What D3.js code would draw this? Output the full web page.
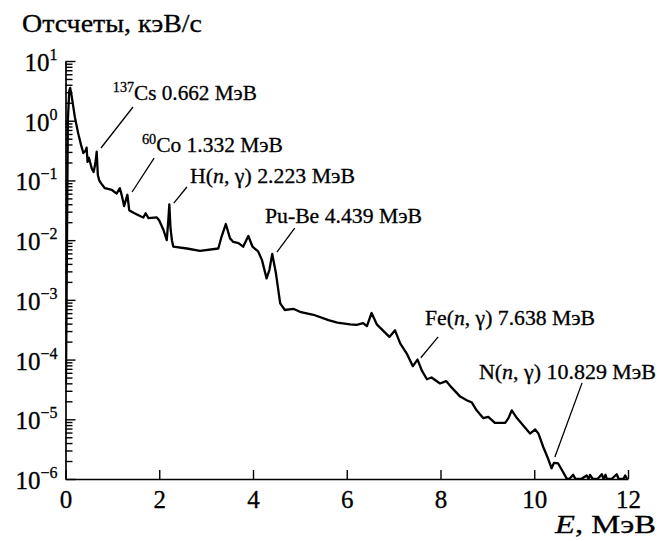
<!DOCTYPE html>
<html>
<head>
<meta charset="utf-8">
<script src="https://cdnjs.cloudflare.com/ajax/libs/d3/7.8.5/d3.min.js"></script>
<style>
  body { margin: 0; background: #fff; }
  svg text { font-family: "Liberation Serif", "Times New Roman", serif; fill: #000; stroke: #000; stroke-width: 0.3px; }
</style>
</head>
<body>
<div id="chart"></div>
<script>
var width = 659;
var height = 541;
var margin = {left: 65.5, top: 61, right: 31, bottom: 62};
var plotW = width - margin.left - margin.right;
var plotH = height - margin.top - margin.bottom;

// spectrum: energy (MeV) and log10 of counts (keV/s)
var energy = [0.01, 0.03, 0.05, 0.08, 0.1, 0.13, 0.2, 0.27, 0.33, 0.38, 0.43, 0.45, 0.47, 0.5, 0.56, 0.6, 0.64, 0.665, 0.69, 0.72, 0.76,
  0.84, 0.99, 1.09, 1.16, 1.2, 1.25, 1.32, 1.36, 1.45, 1.6, 1.66, 1.71, 1.77, 1.95, 2.0, 2.09, 2.16, 2.19, 2.215, 2.24, 2.27, 2.3,
  2.59, 2.87, 3.26, 3.33, 3.42, 3.51, 3.58, 3.69, 3.79, 3.9, 3.99, 4.11, 4.19, 4.29, 4.35, 4.41, 4.49, 4.58, 4.68, 4.86, 5.0, 5.29,
  5.61, 5.8, 6.07, 6.21, 6.35, 6.43, 6.53, 6.64, 6.78, 6.91, 7.03, 7.14, 7.28, 7.41, 7.51, 7.6, 7.71, 7.81, 7.99, 8.12, 8.24, 8.42,
  8.56, 8.67, 8.77, 8.91, 9.02, 9.16, 9.38, 9.45, 9.52, 9.63, 9.77, 9.91, 10.02, 10.09, 10.19, 10.3, 10.37, 10.42, 10.51, 10.59,
  10.69, 10.75, 10.83, 10.88, 11.0, 11.12, 11.16, 11.19, 11.25, 11.35, 11.44, 11.48, 11.52, 11.55, 11.65, 11.76, 11.8, 11.9, 11.94, 11.98];
var countsLog10 = [-4.4, -2.2, 0.0, 0.5, 0.55, 0.42, 0.06, -0.21, -0.4, -0.54, -0.5, -0.45, -0.69, -0.62, -0.8, -0.86, -0.7, -0.52, -0.91, -1.0, -1.05,
  -1.13, -1.16, -1.22, -1.13, -1.25, -1.43, -1.24, -1.5, -1.54, -1.6, -1.62, -1.55, -1.63, -1.62, -1.67, -1.83, -2.0, -1.7, -1.4, -1.8, -2.0, -2.11,
  -2.14, -2.18, -2.14, -1.94, -1.73, -1.97, -2.03, -2.05, -2.11, -1.93, -2.11, -2.19, -2.33, -2.64, -2.5, -2.23, -2.56, -3.06, -3.17, -3.15, -3.2, -3.25,
  -3.34, -3.38, -3.41, -3.42, -3.39, -3.44, -3.22, -3.41, -3.52, -3.62, -3.51, -3.73, -3.9, -4.11, -4.0, -4.18, -4.33, -4.3, -4.4, -4.36, -4.47, -4.62,
  -4.68, -4.72, -4.85, -4.98, -4.96, -5.06, -5.06, -4.98, -4.85, -4.98, -5.11, -5.24, -5.17, -5.24, -5.46, -5.67, -5.82, -5.73, -5.74, -5.85,
  -5.99, -6.0, -5.93, -6.0, -6.0, -5.94, -6.0, -5.93, -6.0, -6.0, -5.92, -6.0, -5.93, -6.0, -6.0, -5.92, -6.0, -6.0, -5.94, -6.0];

var xTicks = [0, 2, 4, 6, 8, 10, 12];
var yExponents = [-6, -5, -4, -3, -2, -1, 0, 1];

// annotations: text position and leader line ends in data units (E, log10 counts)
var annText = [
  {sup: "137", main: "Cs 0.662 МэВ"},
  {sup: "60", main: "Co 1.332 МэВ"},
  {pre: "H(", it: "n", post: ", γ) 2.223 МэВ"},
  {main: "Pu-Be 4.439 МэВ"},
  {pre: "Fe(", it: "n", post: ", γ) 7.638 МэВ"},
  {pre: "N(", it: "n", post: ", γ) 10.829 МэВ"}
];
var annTextPos = [[1.01, 0.347], [1.63, -0.524], [2.656, -1.044], [4.256, -1.714], [7.67, -3.42], [8.82, -4.327]];
var annTextLen = [144, 141, 165, 157, 170, 177];
var annLineFrom = [[1.44, 0.23], [1.89, -0.625], [2.59, -1.11], [4.89, -1.80], [7.95, -3.62], [11.02, -4.39]];
var annLineTo = [[0.757, -0.457], [1.42, -1.194], [2.31, -1.38], [4.51, -2.20], [7.58, -3.97], [10.44, -5.63]];

var svg = d3.select("#chart").append("svg").attr("width", width).attr("height", height);
var g = svg.append("g").attr("transform", "translate(" + margin.left + "," + margin.top + ")");

var x = d3.scaleLinear().domain([0, 12]).range([0, plotW]);
var y = d3.scaleLog().domain([1e-6, 10]).range([plotH, 0]);

// minor log ticks
var minor = [];
yExponents.slice(0, -1).forEach(function(e) {
  for (var k = 2; k <= 9; k++) minor.push(k * Math.pow(10, e));
});
g.append("g").attr("class", "minor")
  .call(d3.axisLeft(y).tickValues(minor).tickSize(-7).tickSizeOuter(0).tickFormat(""))
  .call(function(s) { s.select(".domain").remove(); });

var yAxis = g.append("g")
  .call(d3.axisLeft(y).tickValues(yExponents.map(function(e) { return Math.pow(10, e); }))
    .tickSize(-10).tickSizeOuter(0).tickFormat(""));

var xAxis = g.append("g").attr("transform", "translate(0," + plotH + ")")
  .call(d3.axisBottom(x).tickValues(xTicks).tickSize(-9).tickSizeOuter(0).tickPadding(11).tickFormat(d3.format("d")));
xAxis.selectAll("text").attr("font-size", 25).attr("font-family", null);

g.selectAll(".domain").attr("stroke", "#000").attr("stroke-width", 1.7);
g.selectAll(".tick line").attr("stroke", "#000").attr("stroke-width", 1.4);

// y labels 10^n
var yl = g.append("g").selectAll("text").data(yExponents).enter().append("text")
  .attr("x", -8).attr("y", function(d) { return y(Math.pow(10, d)) + 10; })
  .attr("text-anchor", "end").attr("font-size", 25);
yl.append("tspan").text("10");
yl.append("tspan").attr("font-size", 16).attr("dy", -11)
  .text(function(d) { return d < 0 ? "\u2212" + (-d) : d; });

// spectrum
g.append("clipPath").attr("id", "clip").append("rect")
  .attr("x", 0).attr("y", -5).attr("width", plotW + 2).attr("height", plotH + 6);
var line = d3.line()
  .x(function(d, i) { return x(energy[i]); })
  .y(function(d) { return y(Math.pow(10, d)); });
g.append("path").datum(countsLog10)
  .attr("clip-path", "url(#clip)")
  .attr("d", line).attr("fill", "none").attr("stroke", "#000")
  .attr("stroke-width", 2.3).attr("stroke-linejoin", "round");

// annotations
annText.forEach(function(a, i) {
  var p = annTextPos[i];
  var t = g.append("text").attr("x", x(p[0])).attr("y", y(Math.pow(10, p[1]))).attr("font-size", 21)
    .attr("textLength", annTextLen[i]).attr("lengthAdjust", "spacingAndGlyphs");
  if (a.sup) {
    t.append("tspan").attr("font-size", 14).attr("dy", -8).text(a.sup);
    t.append("tspan").attr("dy", 8).text(a.main);
  } else if (a.it) {
    t.append("tspan").text(a.pre);
    t.append("tspan").attr("font-style", "italic").text(a.it);
    t.append("tspan").text(a.post);
  } else {
    t.text(a.main);
  }
  g.append("line")
    .attr("x1", x(annLineFrom[i][0])).attr("y1", y(Math.pow(10, annLineFrom[i][1])))
    .attr("x2", x(annLineTo[i][0])).attr("y2", y(Math.pow(10, annLineTo[i][1])))
    .attr("stroke", "#000").attr("stroke-width", 1.3);
});

// axis titles
svg.append("text").attr("x", 22).attr("y", 32).attr("font-size", 26)
  .attr("textLength", 180).attr("lengthAdjust", "spacingAndGlyphs").text("Отсчеты, кэВ/с");
var xt = svg.append("text").attr("x", 555).attr("y", 533).attr("font-size", 25)
  .attr("textLength", 101).attr("lengthAdjust", "spacingAndGlyphs");
xt.append("tspan").attr("font-style", "italic").text("E");
xt.append("tspan").text(", МэВ");
</script>
</body>
</html>
